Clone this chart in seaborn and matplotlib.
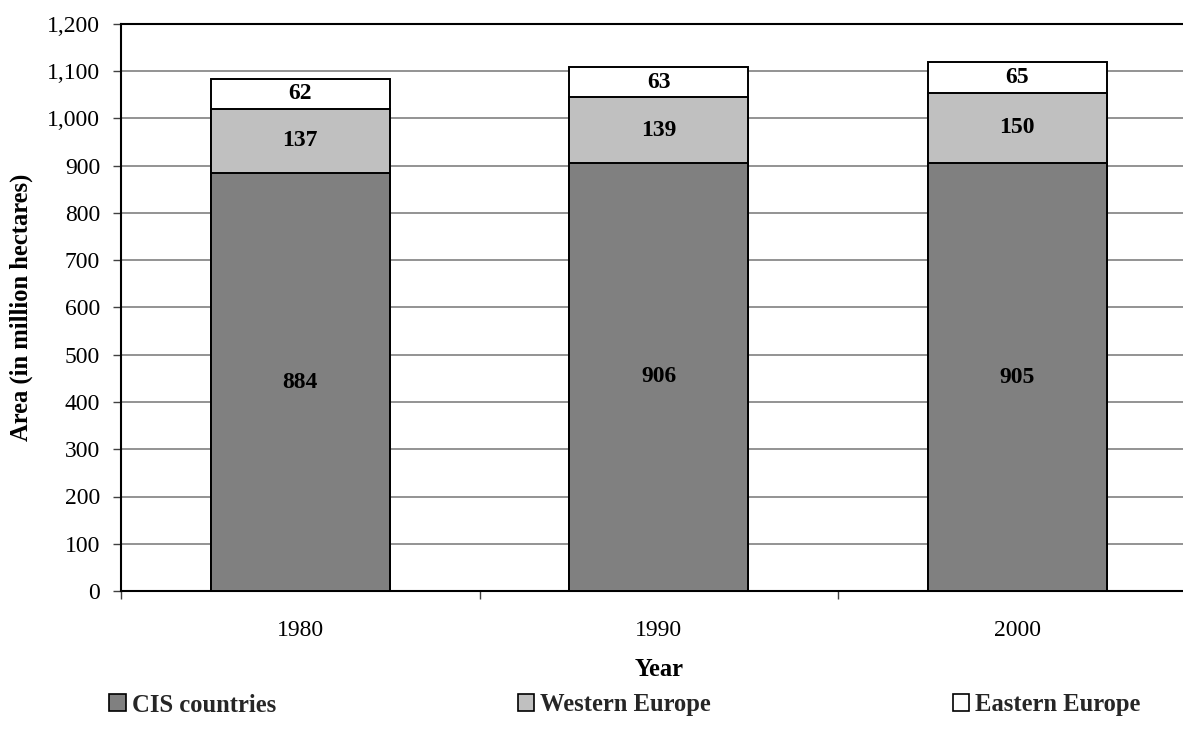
import matplotlib
matplotlib.use("Agg")
import matplotlib.pyplot as plt
from matplotlib.patches import Patch
from matplotlib.ticker import FuncFormatter, FixedLocator
import numpy as np
import pandas as pd
import seaborn as sns

# Forest area by region (million hectares)
years = ["1980", "1990", "2000"]
cis = [884, 906, 905]
western = [137, 139, 150]
eastern = [62, 63, 65]

series_names = ["CIS countries", "Western Europe", "Eastern Europe"]
series_colors = ["#808080", "#C0C0C0", "#FFFFFF"]

sns.set_theme(style="white")
plt.rcParams["font.family"] = ["Liberation Serif", "DejaVu Serif"]
FS = 17
FS_LAB = 17.7

df = pd.DataFrame({"Year": years, "cis": cis, "western": western, "eastern": eastern})
df["lvl1"] = df["cis"]
df["lvl2"] = df["cis"] + df["western"]
df["lvl3"] = df["lvl2"] + df["eastern"]

fig = plt.figure(figsize=(11.83, 7.42), dpi=100)
ax = fig.add_axes([121 / 1183, 151 / 742, (1196.5 - 121) / 1183, 567 / 742])

# Stack drawn as cumulative totals, tallest first
for col, color in zip(["lvl3", "lvl2", "lvl1"], series_colors[::-1]):
    sns.barplot(data=df, x="Year", y=col, color=color, saturation=1,
                width=0.5, edgecolor="black", linewidth=1.4, ax=ax, zorder=3)

# Segment value labels
for i in range(len(years)):
    segs = [(0, cis[i]), (cis[i], western[i]), (cis[i] + western[i], eastern[i])]
    for base, val in segs:
        ax.text(i, base + val / 2, f"{val}", ha="center", va="center",
                fontsize=FS, fontweight="bold", color="black", zorder=5)

ax.set_ylim(0, 1200)
ax.set_xlim(-0.5, 2.5)
ax.set_yticks(np.arange(0, 1201, 100))
ax.yaxis.set_major_formatter(FuncFormatter(lambda v, p: f"{int(v):,}"))
ax.grid(axis="y", color="#808080", linewidth=1.2, zorder=0)
ax.set_axisbelow(True)

for s in ["left", "bottom", "top"]:
    ax.spines[s].set_visible(True)
    ax.spines[s].set_color("black")
    ax.spines[s].set_linewidth(1.5)
ax.spines["right"].set_visible(False)

ax.tick_params(axis="y", which="major", direction="out", length=6, width=1,
               color="#404040", pad=9, labelsize=FS, left=True, labelcolor="black")
ax.xaxis.set_minor_locator(FixedLocator([-0.5, 0.5, 1.5, 2.5]))
ax.tick_params(axis="x", which="major", length=0, pad=21, labelsize=FS, labelcolor="black")
ax.tick_params(axis="x", which="minor", direction="out", length=6, width=1,
               color="#404040", bottom=True)

ax.set_xlabel("Year", fontsize=FS_LAB, fontweight="bold", color="black")
ax.xaxis.set_label_coords(0.5, -0.119)
ax.set_ylabel("Area (in million hectares)", fontsize=FS_LAB, fontweight="bold", color="black")
ax.yaxis.set_label_coords(-0.082, 0.5)

handles = [Patch(facecolor=c, edgecolor="black", linewidth=1.2) for c in series_colors]
fig.legend(handles, series_names, loc="center left",
           bbox_to_anchor=(109 / 1183, 1 - 705 / 742), ncol=3, frameon=False,
           prop={"size": FS_LAB, "weight": "bold"}, handlelength=0.68, handleheight=0.68,
           handletextpad=0.24, columnspacing=9.83, borderpad=0, borderaxespad=0)

fig.savefig("out.png", dpi=100, facecolor="white")
